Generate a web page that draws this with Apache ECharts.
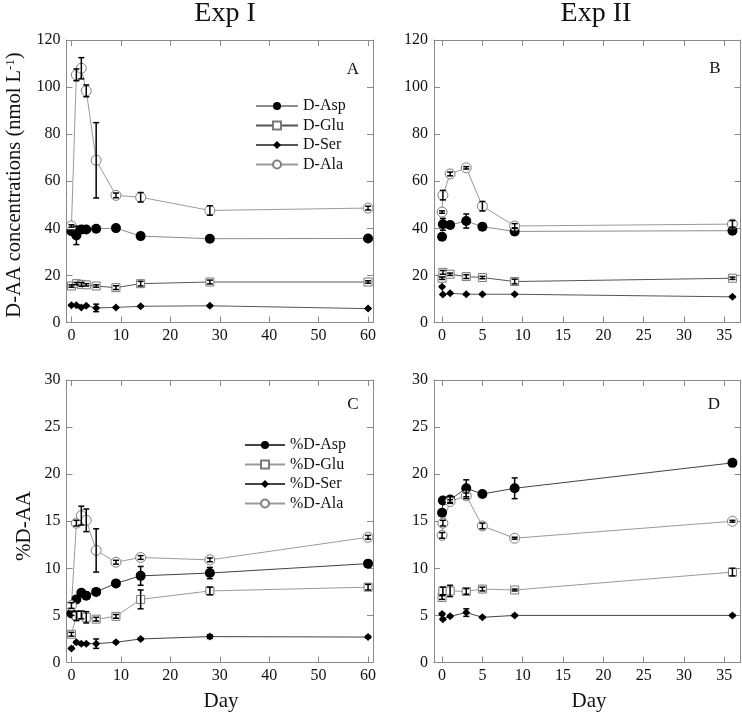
<!DOCTYPE html>
<html>
<head>
<meta charset="utf-8">
<script src="https://cdn.jsdelivr.net/npm/echarts@6/dist/echarts.min.js"></script>
<style>
html,body{margin:0;padding:0;background:#fff;}
#chart{width:742px;height:713px;}
</style>
</head>
<body>
<div id="chart"></div>
<script>
// ---------- DATA ----------
const daysI = [0, 1, 2, 3, 5, 9, 14, 28, 60];
const daysII = [0, 0.1, 1, 3, 5, 9, 36];
const xTicksI = [0, 10, 20, 30, 40, 50, 60];
const xTicksII = [0, 5, 10, 15, 20, 25, 30, 35];

// Panel A: D-AA concentrations, Exp I
const aspA = [38.8, 37.0, 39.5, 39.5, 39.8, 40.1, 36.7, 35.6, 35.7];
const aspAErr = [0.5, 3.9, 0.5, 0.5, 0.5, 0.5, 1.2, 0.5, 0.5];
const gluA = [15.5, 16.5, 16.2, 16.0, 15.5, 14.8, 16.5, 17.2, 17.2];
const gluAErr = [0.5, 0.5, 0.8, 0.5, 0.5, 0.8, 1.0, 0.8, 0.5];
const serA = [7.3, 7.3, 6.4, 7.1, 6.2, 6.4, 6.9, 7.1, 5.9];
const serAErr = [0.3, 0.3, 0.3, 0.3, 1.6, 0.3, 0.3, 0.3, 0.3];
const alaA = [41.0, 105.2, 108.0, 98.4, 68.9, 54.0, 53.2, 47.6, 48.6];
const alaAErr = [0.5, 2.5, 4.5, 2.5, 16.0, 1.0, 2.0, 2.0, 0.8];

// Panel B: D-AA concentrations, Exp II
const aspB = [36.4, 41.7, 41.4, 43.1, 40.7, 38.7, 39.0];
const aspBErr = [0.5, 2.5, 0.5, 3.0, 0.5, 1.5, 1.5];
const gluB = [18.8, 21.3, 20.5, 19.5, 19.1, 17.4, 18.8];
const gluBErr = [0.5, 0.8, 0.5, 0.8, 0.5, 1.0, 0.5];
const serB = [15.2, 11.9, 12.4, 12.0, 12.0, 12.0, 10.9];
const serBErr = [0.3, 0.3, 0.3, 0.3, 0.3, 0.3, 0.3];
const alaB = [46.9, 54.1, 63.1, 65.7, 49.4, 41.0, 41.8];
const alaBErr = [0.5, 2.0, 0.8, 0.5, 2.0, 1.0, 1.5];

// Panel C: %D-AA, Exp I
const aspC = [5.2, 6.7, 7.4, 7.1, 7.5, 8.4, 9.2, 9.5, 10.5];
const aspCErr = [0.2, 0.2, 0.2, 0.2, 0.2, 0.2, 1.0, 0.6, 0.3];
const gluC = [3.0, 4.95, 5.05, 4.8, 4.6, 4.9, 6.7, 7.6, 8.0];
const gluCErr = [0.2, 0.5, 0.4, 0.6, 0.2, 0.2, 1.0, 0.4, 0.3];
const serC = [1.5, 2.15, 2.0, 2.0, 2.0, 2.15, 2.5, 2.75, 2.7];
const serCErr = [0.1, 0.1, 0.1, 0.1, 0.5, 0.1, 0.1, 0.2, 0.1];
const alaC = [6.05, 14.8, 15.6, 15.1, 11.9, 10.65, 11.15, 10.9, 13.3];
const alaCErr = [0.3, 0.3, 1.0, 1.2, 2.3, 0.2, 0.2, 0.2, 0.2];

// Panel D: %D-AA, Exp II
const aspD = [15.9, 17.2, 17.3, 18.5, 17.9, 18.5, 21.2];
const aspDErr = [0.2, 0.2, 0.3, 0.9, 0.2, 1.1, 0.2];
const gluD = [6.9, 7.6, 7.6, 7.55, 7.8, 7.7, 9.6];
const gluDErr = [0.2, 0.4, 0.6, 0.3, 0.2, 0.1, 0.4];
const serD = [5.15, 4.6, 4.9, 5.3, 4.8, 5.0, 5.0];
const serDErr = [0.1, 0.1, 0.1, 0.4, 0.1, 0.1, 0.1];
const alaD = [13.5, 14.8, 17.1, 17.7, 14.5, 13.2, 15.0];
const alaDErr = [0.3, 0.3, 0.2, 0.3, 0.3, 0.1, 0.1];

const legendNamesTop = ['D-Asp', 'D-Glu', 'D-Ser', 'D-Ala'];
const legendNamesBottom = ['%D-Asp', '%D-Glu', '%D-Ser', '%D-Ala'];

// ---------- STYLE / LAYOUT ----------
const FF = 'Liberation Serif';
const frameColor = '#8a8a8a';
const grids = [
  {left: 66.5, top: 40, width: 306.5, height: 282.5},
  {left: 434, top: 40, width: 306.5, height: 282.5},
  {left: 66.5, top: 380, width: 306.5, height: 282.5},
  {left: 434, top: 380, width: 306.5, height: 282.5}
];
const xCfg = [
  {min: -1, max: 61, ticks: xTicksI},
  {min: -1, max: 37, ticks: xTicksII},
  {min: -1, max: 61, ticks: xTicksI},
  {min: -1, max: 37, ticks: xTicksII}
];
const yCfg = [
  {min: 0, max: 120, interval: 20},
  {min: 0, max: 120, interval: 20},
  {min: 0, max: 30, interval: 5},
  {min: 0, max: 30, interval: 5}
];

const diamond = 'path://M0,-1L1,0L0,1L-1,0Z';
const kinds = {
  asp: {symbol: 'circle', size: 10, item: {color: '#000', borderColor: '#000', borderWidth: 0}},
  glu: {symbol: 'rect', size: 8, item: {color: '#fff', borderColor: '#7a7a7a', borderWidth: 1}},
  ser: {symbol: diamond, size: 8, item: {color: '#000', borderColor: '#000', borderWidth: 0}},
  ala: {symbol: 'circle', size: 10, item: {color: '#fff', borderColor: '#808080', borderWidth: 1}}
};

const xAxes = [], yAxes = [];
grids.forEach((g, i) => {
  const xc = xCfg[i], yc = yCfg[i];
  const tickCommon = {show: true, inside: true, length: 6, lineStyle: {color: frameColor, width: 1}};
  const lineCommon = {show: true, onZero: false, lineStyle: {color: frameColor, width: 1}};
  xAxes.push({
    type: 'value', gridIndex: i, min: xc.min, max: xc.max, position: 'bottom',
    axisLine: lineCommon,
    axisTick: Object.assign({customValues: xc.ticks}, tickCommon),
    axisLabel: {customValues: xc.ticks, fontFamily: FF, fontSize: 16, color: '#111', margin: 5},
    splitLine: {show: false}
  });
  xAxes.push({
    type: 'value', gridIndex: i, min: xc.min, max: xc.max, position: 'top',
    axisLine: lineCommon,
    axisTick: Object.assign({customValues: xc.ticks}, tickCommon),
    axisLabel: {show: false},
    splitLine: {show: false}
  });
  yAxes.push({
    type: 'value', gridIndex: i, min: yc.min, max: yc.max, interval: yc.interval, position: 'left',
    axisLine: lineCommon,
    axisTick: tickCommon,
    axisLabel: {fontFamily: FF, fontSize: 16, color: '#111', margin: 6},
    splitLine: {show: false}
  });
  yAxes.push({
    type: 'value', gridIndex: i, min: yc.min, max: yc.max, interval: yc.interval, position: 'right',
    axisLine: lineCommon,
    axisTick: tickCommon,
    axisLabel: {show: false},
    splitLine: {show: false}
  });
});

function errRender(params, api) {
  const x = api.value(0), y = api.value(1), e = api.value(2);
  if (!e) return null;
  const t = api.coord([x, y + e]);
  const b = api.coord([x, y - e]);
  const w = 3;
  const st = {stroke: '#000', lineWidth: 1.5};
  return {
    type: 'group',
    children: [
      {type: 'line', shape: {x1: t[0], y1: t[1], x2: b[0], y2: b[1]}, style: st},
      {type: 'line', shape: {x1: t[0] - w, y1: t[1], x2: t[0] + w, y2: t[1]}, style: st},
      {type: 'line', shape: {x1: b[0] - w, y1: b[1], x2: b[0] + w, y2: b[1]}, style: st}
    ]
  };
}

const series = [];
function addSeries(panel, name, kind, days, vals, errs, lineColor) {
  const k = kinds[kind];
  series.push({
    type: 'line', name: name, xAxisIndex: panel * 2, yAxisIndex: panel * 2,
    data: days.map((d, i) => [d, vals[i]]),
    symbol: k.symbol, symbolSize: k.size, showAllSymbol: true,
    itemStyle: k.item,
    lineStyle: {color: lineColor, width: 1},
    z: 2, animation: false
  });
  series.push({
    type: 'custom', name: name + ' err', xAxisIndex: panel * 2, yAxisIndex: panel * 2,
    data: days.map((d, i) => [d, vals[i], errs[i]]),
    encode: {x: 0, y: 1},
    renderItem: errRender, z: 4, silent: true, animation: false
  });
}

addSeries(0, 'D-Asp', 'asp', daysI, aspA, aspAErr, '#8c8c8c');
addSeries(0, 'D-Glu', 'glu', daysI, gluA, gluAErr, '#555');
addSeries(0, 'D-Ser', 'ser', daysI, serA, serAErr, '#555');
addSeries(0, 'D-Ala', 'ala', daysI, alaA, alaAErr, '#9a9a9a');

addSeries(1, 'II D-Asp', 'asp', daysII, aspB, aspBErr, '#8c8c8c');
addSeries(1, 'II D-Glu', 'glu', daysII, gluB, gluBErr, '#555');
addSeries(1, 'II D-Ser', 'ser', daysII, serB, serBErr, '#555');
addSeries(1, 'II D-Ala', 'ala', daysII, alaB, alaBErr, '#9a9a9a');

addSeries(2, '%D-Asp', 'asp', daysI, aspC, aspCErr, '#444');
addSeries(2, '%D-Glu', 'glu', daysI, gluC, gluCErr, '#9a9a9a');
addSeries(2, '%D-Ser', 'ser', daysI, serC, serCErr, '#444');
addSeries(2, '%D-Ala', 'ala', daysI, alaC, alaCErr, '#9a9a9a');

addSeries(3, 'II %D-Asp', 'asp', daysII, aspD, aspDErr, '#444');
addSeries(3, 'II %D-Glu', 'glu', daysII, gluD, gluDErr, '#9a9a9a');
addSeries(3, 'II %D-Ser', 'ser', daysII, serD, serDErr, '#444');
addSeries(3, 'II %D-Ala', 'ala', daysII, alaD, alaDErr, '#9a9a9a');

const legendCommon = {
  orient: 'vertical', itemHeight: 10, itemGap: 3.5, padding: 0,
  selectedMode: false,
  textStyle: {fontFamily: FF, fontSize: 16, color: '#111'}
};

const txt = (text, x, y, size, extra) => ({
  type: 'text', x: x, y: y,
  style: Object.assign({text: text, fontFamily: FF, fontSize: size, fill: '#111', align: 'center', verticalAlign: 'middle'}, extra || {})
});

const option = {
  backgroundColor: '#fff',
  animation: false,
  grid: grids.map(g => Object.assign({containLabel: false}, g)),
  xAxis: xAxes,
  yAxis: yAxes,
  legend: [
    Object.assign({data: legendNamesTop, left: 255, top: 98, itemWidth: 42}, legendCommon),
    Object.assign({data: legendNamesBottom, left: 244, top: 437, itemWidth: 40}, legendCommon)
  ],
  series: series,
  graphic: [
    txt('Exp I', 225, 14, 28),
    txt('Exp II', 596, 14, 28),
    txt('A', 353, 70, 17),
    txt('B', 715, 69, 17),
    txt('C', 353, 405, 17),
    txt('D', 714, 405, 17),
    txt('Day', 221, 701, 21),
    txt('Day', 589, 701, 21),
    Object.assign(txt('D-AA concentrations (nmol L{sup|-1})', 15, 185, 20.5, {
      rich: {sup: {fontFamily: FF, fontSize: 13, fill: '#111', padding: [0, 0, 9, 0]}}
    }), {rotation: Math.PI / 2}),
    Object.assign(txt('%D-AA', 24, 526, 21), {rotation: Math.PI / 2})
  ]
};

const chart = echarts.init(document.getElementById('chart'), null, {renderer: 'canvas'});
chart.setOption(option);
</script>
</body>
</html>
